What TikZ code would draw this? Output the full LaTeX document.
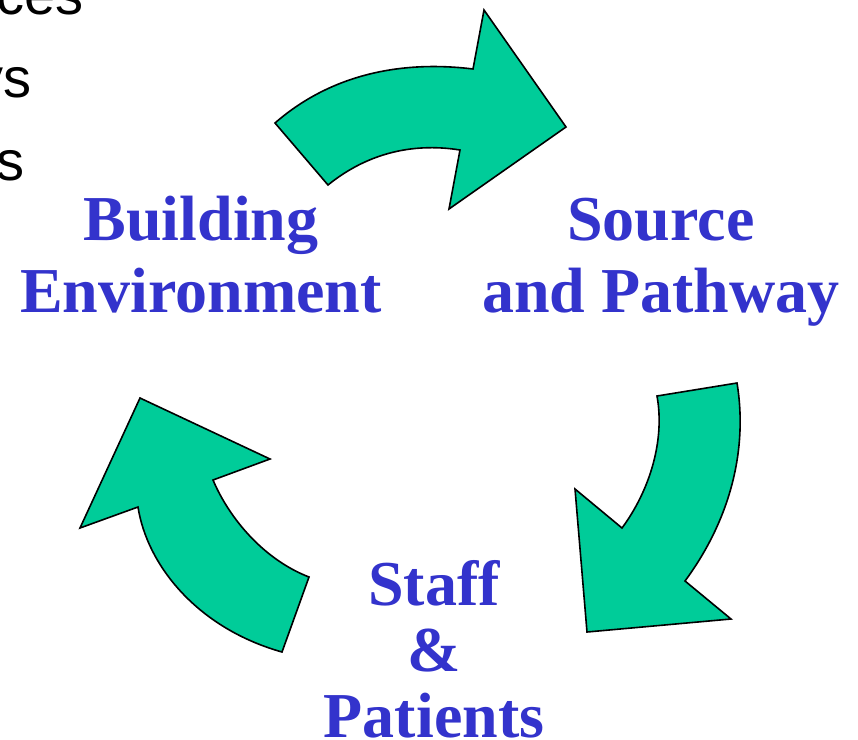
\documentclass[tikz,border=0pt]{standalone}
\usepackage{fontspec}
\setmainfont{Liberation Serif}
\newfontfamily\arialfont{Liberation Sans}
\definecolor{arrowgreen}{HTML}{00CC99}
\definecolor{labelblue}{HTML}{3333CC}

\begin{document}
\begin{tikzpicture}[x=1pt,y=-1pt,
  cyclearrow/.style={fill=arrowgreen,draw=black,line width=1.6pt,line join=miter},
  stagelabel/.style={text=labelblue,align=center,inner sep=0pt,anchor=base},
  sidetext/.style={font=\arialfont\fontsize{56}{60}\selectfont,inner sep=0pt,anchor=base east}]

\clip (0,0) rectangle (858,739);
\fill[white] (0,0) rectangle (858,739);

% bullet text running in from the left
\node[sidetext] (t1) at (84,14) {ces};
\node[sidetext] (t2) at (32,97) {ys};
\node[sidetext] (t3) at (25,180) {s};

% upper arrow: building environment -> source and pathway
\draw[cyclearrow] (275,123) .. controls (330,75) and (400,60) .. (473,69)
  -- (484,10) -- (566,127) -- (449,209) -- (460,150)
  .. controls (410,142) and (365,155) .. (328,185) -- cycle;

% right arrow: source and pathway -> staff & patients
\draw[cyclearrow] (737,383) .. controls (748,450) and (730,520) .. (685,581)
  -- (731,619) -- (587,632) -- (575,489) -- (622,528)
  .. controls (650,490) and (665,440) .. (657,396) -- cycle;

% left arrow: staff & patients -> building environment
\draw[cyclearrow] (309,577) .. controls (265,560) and (230,520) .. (213,480)
  -- (270,459) -- (140,398) -- (80,528) -- (138,507)
  .. controls (147,565) and (197,628) .. (282,652) -- cycle;

% stage labels
\node[stagelabel,font=\fontsize{64}{72}\selectfont\bfseries] (building) at (201,312) {Building\\Environment};
\node[stagelabel,font=\fontsize{64}{72}\selectfont\bfseries] (source) at (661,312) {Source\\and Pathway};
\node[stagelabel,font=\fontsize{64}{66}\selectfont\bfseries] (staff) at (434,737) {Staff\\\&\\Patients};
\end{tikzpicture}
\end{document}
